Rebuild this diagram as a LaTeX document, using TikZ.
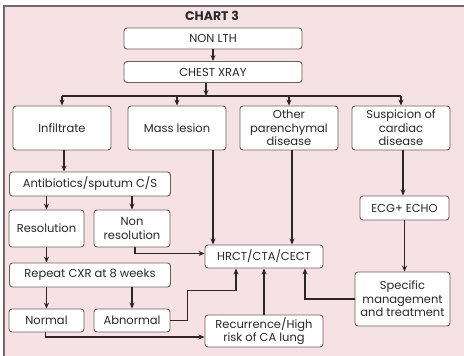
\documentclass[tikz,border=0pt]{standalone}
\usepackage{fontspec}
\setmainfont{Poppins}
\usepackage{tikz}
\usetikzlibrary{positioning, arrows.meta, calc}
\definecolor{ChPink}{RGB}{246,226,228}
\definecolor{ChFrame}{RGB}{112,104,106}
\definecolor{ChBox}{RGB}{105,96,96}
\definecolor{ChLine}{RGB}{48,36,36}
\definecolor{ChText}{RGB}{40,40,40}

\begin{document}
\begin{tikzpicture}[x=1pt, y=-1pt,
          bx/.style={rectangle, rounded corners=3pt, draw=ChBox, fill=white,
                     line width=0.9pt, text=ChText, inner sep=1pt, align=center,
                     font=\fontsize{11.5}{13.5}\selectfont},
          arr/.style={-{Stealth[length=6pt, width=5pt]}, ChLine, line width=1.3pt},
          ln/.style={ChLine, line width=1.3pt}
        ]
        \useasboundingbox (0,0) rectangle (464,356);
        % Background and frame
        \fill[white] (0,0) rectangle (464,356);
        \fill[ChPink] (4,6) rectangle (464,356);
        \draw[ChFrame, line width=1.6pt] (4,356) -- (4,6) -- (464,6);

        % Title
        \node[font=\fontsize{12.5}{14}\selectfont\bfseries, text=ChText] (title) at (212,16) {CHART 3};
        % Top boxes
        \node[bx, minimum width=178pt, minimum height=21pt] (nonlth) at (213,38.5) {NON LTH};
        \node[bx, minimum width=178pt, minimum height=21pt] (cxr)    at (213,72)   {CHEST XRAY};
        \coordinate (bus) at (206,96);
        % Findings
        \node[bx, minimum width=98pt, minimum height=44pt] (infil) at (62,128)  {Infiltrate};
        \node[bx, minimum width=98pt, minimum height=44pt] (mass)  at (177,128) {Mass lesion};
        \node[bx, minimum width=98pt, minimum height=44pt] (other) at (289,128) {Other\\parenchymal\\disease};
        \node[bx, minimum width=98pt, minimum height=44pt] (card)  at (401,128) {Suspicion of\\cardiac\\disease};
        % Infiltrate branch
        \node[bx, minimum width=161pt, minimum height=24pt] (anti)   at (90,184)  {Antibiotics/sputum C/S};
        \node[bx, minimum width=75pt,  minimum height=37pt] (res)    at (46.5,228.5) {Resolution};
        \node[bx, minimum width=76pt,  minimum height=37pt] (nonres) at (132,228.5) {Non\\resolution};
        \node[bx, minimum width=161pt, minimum height=24pt] (rep)    at (90,275)  {Repeat CXR at 8 weeks};
        \node[bx, minimum width=75pt,  minimum height=23pt] (normal) at (46.5,320.5) {Normal};
        \node[bx, minimum width=76pt,  minimum height=23pt] (abn)    at (132,320.5) {Abnormal};
        % Imaging and cardiac
        \node[bx, minimum width=118pt, minimum height=23pt] (hrct) at (264,256.5) {HRCT/CTA/CECT};
        \node[bx, minimum width=118pt, minimum height=32pt] (rec)  at (264,331)   {Recurrence/High\\risk of CA lung};
        \node[bx, minimum width=89pt,  minimum height=24pt] (ecg)  at (404.5,208) {ECG+ ECHO};
        \node[bx, minimum width=95pt,  minimum height=54pt] (spec) at (402.5,299) {Specific\\management\\and treatment};

        % Top arrows
        \draw[arr] (nonlth) -- (cxr);
        \draw[arr] ([xshift=-7pt]cxr.south) -- (bus);
        \draw[ln] (infil.north |- bus) -- (card.north |- bus);
        \foreach \n in {infil,mass,other,card}
          \draw[arr] (\n.north |- bus) -- (\n.north);

        % Infiltrate branch arrows
        \draw[arr] ([xshift=2pt]infil.south) -- ([xshift=2pt]infil.south |- anti.north);
        \draw[arr] (res.north |- anti.south) -- (res.north);
        \draw[arr] (nonres.north |- anti.south) -- (nonres.north);
        \draw[arr] (res.south) -- (res.south |- rep.north);
        \draw[arr] (normal.north |- rep.south) -- (normal.north);
        \draw[arr] (abn.north |- rep.south) -- (abn.north);

        % Into HRCT/CTA/CECT
        \draw[arr] ([xshift=36pt]mass.south) -- ([xshift=36pt]mass.south |- hrct.north);
        \draw[arr] ([xshift=3pt]other.south) -- ([xshift=3pt]other.south |- hrct.north);
        \draw[arr] ([xshift=3pt]nonres.south) |- ([yshift=3pt]hrct.west);
        \draw[arr] (abn.east) -- ++(17,0) -- ++(0,-30) -| ([xshift=-28pt]hrct.south);
        \draw[arr] (rec) -- (hrct);
        \draw[arr] (spec.west) -| ([xshift=41pt]hrct.south);
        \draw[arr] ([xshift=-1pt]normal.south) |- ([yshift=-6pt]rec.west);

        % Cardiac branch
        \draw[arr] ([xshift=2pt]card.south) -- ([xshift=2pt]card.south |- ecg.north);
        \draw[arr] (ecg) -- (ecg |- spec.north);
      \end{tikzpicture}
\end{document}
